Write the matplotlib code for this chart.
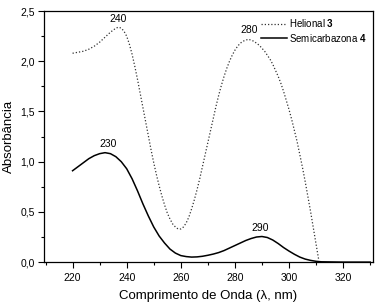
import matplotlib
matplotlib.use("Agg")
import matplotlib.pyplot as plt
from matplotlib.ticker import MultipleLocator, FuncFormatter

plt.rcParams['font.family'] = ['Liberation Sans', 'DejaVu Sans']
plt.rcParams['mathtext.fontset'] = 'custom'
plt.rcParams['mathtext.bf'] = 'Liberation Sans:bold'
plt.rcParams['mathtext.rm'] = 'Liberation Sans'

# Helional 3 (dotted)
wl_hel = [220, 222, 224, 226, 228, 230, 232, 234, 236, 237, 238, 239, 240, 241, 242,
          243, 244, 245, 246, 247, 248, 249, 250, 251, 252, 253, 254, 255, 256, 257,
          258, 259, 260, 261, 262, 263, 264, 265, 266, 267, 268, 269, 270, 271, 272,
          273, 274, 275, 276, 277, 278, 279, 280, 281, 282, 283, 284, 285, 286, 287,
          288, 289, 290, 291, 292, 293, 294, 295, 296, 297, 298, 299, 300, 301, 302,
          303, 304, 305, 306, 307, 308, 309, 310, 311]
abs_hel = [2.08, 2.09, 2.10, 2.12, 2.15, 2.19, 2.24, 2.29, 2.33, 2.34, 2.33, 2.30, 2.25, 2.17, 2.07,
           1.95, 1.82, 1.68, 1.54, 1.40, 1.26, 1.12, 0.99, 0.87, 0.76, 0.66, 0.57, 0.49, 0.43, 0.38,
           0.35, 0.33, 0.33, 0.35, 0.39, 0.45, 0.53, 0.62, 0.72, 0.83, 0.95, 1.07, 1.19, 1.31, 1.43,
           1.55, 1.66, 1.76, 1.85, 1.93, 2.00, 2.06, 2.11, 2.15, 2.18, 2.20, 2.21, 2.22, 2.21, 2.20,
           2.18, 2.16, 2.13, 2.10, 2.06, 2.02, 1.97, 1.91, 1.85, 1.78, 1.70, 1.61, 1.52, 1.42, 1.31,
           1.20, 1.07, 0.94, 0.80, 0.65, 0.50, 0.34, 0.18, 0.02]

# Semicarbazona 4 (solid)
wl_semi = [220, 222, 224, 226, 228, 230, 232, 234, 236, 238, 240, 242, 244, 246, 248,
           250, 252, 254, 256, 258, 260, 262, 264, 266, 268, 270, 272, 274, 276, 278,
           280, 282, 284, 286, 288, 290, 292, 294, 296, 298, 300, 302, 304, 306, 308,
           310, 312, 320, 330]
abs_semi = [0.91, 0.95, 0.99, 1.03, 1.06, 1.08, 1.09, 1.08, 1.05, 1.00, 0.93, 0.83, 0.71, 0.58, 0.46,
            0.35, 0.26, 0.19, 0.13, 0.09, 0.065, 0.055, 0.05, 0.052, 0.058, 0.068, 0.08, 0.095, 0.115, 0.14,
            0.165, 0.19, 0.215, 0.235, 0.25, 0.255, 0.245, 0.22, 0.185, 0.145, 0.11, 0.078, 0.05, 0.03, 0.017,
            0.008, 0.003, 0.0, 0.0]

# peak labels: (text, x, y)
peaks = [("240", 236.7, 2.37), ("280", 285.2, 2.26), ("230", 233, 1.13), ("290", 289.3, 0.29)]

fig = plt.figure(figsize=(3.84, 3.08), dpi=100)
ax = fig.add_axes([0.115, 0.149, 0.856, 0.815])

ax.plot(wl_hel, abs_hel, color='#333333', lw=0.9, ls=(0, (1, 1.6)), label=r"Helional $\mathbf{3}$")
ax.plot(wl_semi, abs_semi, color='black', lw=1.1, label=r"Semicarbazona $\mathbf{4}$")

for txt, x, y in peaks:
    ax.text(x, y, txt, ha='center', va='bottom', fontsize=7.5)

ax.set_xlim(209.5, 331)
ax.set_ylim(0, 2.5)
ax.xaxis.set_major_locator(MultipleLocator(20))
ax.xaxis.set_minor_locator(MultipleLocator(10))
ax.yaxis.set_major_locator(MultipleLocator(0.5))
ax.yaxis.set_minor_locator(MultipleLocator(0.25))
ax.yaxis.set_major_formatter(FuncFormatter(lambda v, p: f"{v:.1f}".replace('.', ',')))
ax.tick_params(which='both', direction='out', top=False, right=False, labelsize=7.5, width=0.8, pad=2.5)
ax.tick_params(which='major', length=4)
ax.tick_params(which='minor', length=2.5)
ax.tick_params(axis='x', pad=4)
for s in ax.spines.values():
    s.set_linewidth(0.9)

ax.set_xlabel("Comprimento de Onda (λ, nm)", fontsize=9.5, labelpad=5)
ax.set_ylabel("Absorbância", fontsize=9.5, labelpad=4)

ax.legend(loc='upper right', frameon=False, fontsize=7, handlelength=2.6,
          handletextpad=0.25, labelspacing=0.3, borderaxespad=0.2)

fig.savefig("out.png", dpi=100)
